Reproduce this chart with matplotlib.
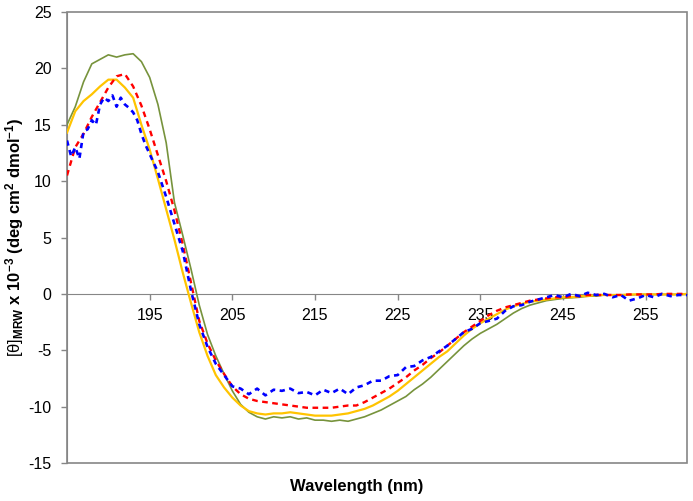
import numpy as np
import matplotlib
matplotlib.use("Agg")
import matplotlib.pyplot as plt
from matplotlib.patches import Rectangle

plt.rcParams["font.family"] = ["Liberation Sans", "DejaVu Sans"]
plt.rcParams["axes.unicode_minus"] = False
plt.rcParams["mathtext.fontset"] = "custom"
plt.rcParams["mathtext.rm"] = "Liberation Sans"
plt.rcParams["mathtext.it"] = "Liberation Sans:italic"
plt.rcParams["mathtext.bf"] = "Liberation Sans:bold"

# wavelength grid (nm), 1 nm steps
wl = np.arange(185, 261)

green = [15.0, 16.6, 18.8, 20.4, 20.8, 21.2, 21.0, 21.2, 21.3, 20.6,
         19.2, 16.8, 13.4, 8.1, 5.2, 2.2, -1.0, -3.6, -5.5, -7.1,
         -8.6, -9.8, -10.5, -10.9, -11.1, -10.9, -11.0, -10.9, -11.1, -11.0,
         -11.2, -11.2, -11.3, -11.2, -11.3, -11.1, -10.9, -10.6, -10.3, -9.9,
         -9.5, -9.1, -8.5, -8.0, -7.4, -6.7, -6.0, -5.3, -4.6, -4.0,
         -3.5, -3.1, -2.7, -2.2, -1.7, -1.3, -1.0, -0.8, -0.6, -0.5,
         -0.4, -0.35, -0.3, -0.2, -0.2, -0.1, -0.1, -0.1, -0.1, -0.05,
         -0.05, -0.05, -0.05, -0.05, -0.05, -0.05]

yellow = [14.3, 16.2, 17.1, 17.7, 18.4, 19.0, 19.0, 18.3, 17.4, 15.0,
          12.8, 10.2, 7.5, 4.8, 1.9, -0.8, -3.4, -5.5, -7.2, -8.3,
          -9.2, -9.9, -10.4, -10.6, -10.7, -10.6, -10.6, -10.5, -10.6, -10.7,
          -10.8, -10.8, -10.8, -10.7, -10.6, -10.4, -10.2, -9.9, -9.5, -9.1,
          -8.6, -8.0, -7.4, -6.8, -6.2, -5.6, -5.1, -4.4, -3.7, -3.1,
          -2.6, -2.2, -1.8, -1.4, -1.1, -0.9, -0.7, -0.6, -0.5, -0.4,
          -0.3, -0.3, -0.2, -0.2, -0.1, -0.1, -0.1, -0.1, -0.05, -0.05,
          -0.05, -0.05, -0.05, -0.05, -0.05, 0.0]

red = [10.5, 13.0, 14.2, 15.7, 17.0, 18.3, 19.3, 19.5, 18.4, 16.7,
       14.6, 12.3, 10.0, 7.4, 4.4, 1.0, -2.4, -4.4, -5.9, -7.1,
       -8.2, -8.9, -9.3, -9.5, -9.6, -9.7, -9.8, -9.9, -10.0, -10.1,
       -10.1, -10.1, -10.1, -10.0, -9.9, -9.9, -9.6, -9.2, -8.8, -8.4,
       -7.9, -7.4, -6.8, -6.3, -5.7, -5.2, -4.6, -4.0, -3.4, -2.9,
       -2.4, -1.9, -1.5, -1.2, -1.0, -0.8, -0.6, -0.5, -0.4, -0.3,
       -0.3, -0.2, -0.2, -0.1, -0.1, -0.1, -0.1, -0.1, -0.05, -0.05,
       -0.05, -0.05, 0.0, 0.0, 0.0, 0.0]

# blue trace is noisy: half-nm readings up to 195 nm, then 1 nm
wl_blue = np.concatenate([np.arange(185, 195, 0.5), np.arange(195, 261)])
blue = [13.6, 12.2, 13.0, 12.0, 14.4, 14.6, 15.4, 15.0, 16.8, 17.4,
        17.1, 17.6, 16.6, 17.4, 16.8, 16.5, 16.1, 15.4, 14.2, 13.2,
        12.4, 10.8, 8.6, 6.2, 3.8, 0.3, -2.7, -4.7, -6.2, -7.2,
        -8.2, -8.4, -8.9, -8.4, -9.0, -8.5, -8.6, -8.4, -8.8, -8.7,
        -9.0, -8.5, -8.8, -8.4, -8.9, -8.3, -8.1, -7.7, -7.7, -7.3,
        -7.2, -6.5, -6.4, -5.9, -5.6, -5.1, -4.6, -4.0, -3.4, -3.1,
        -2.6, -2.4, -2.2, -1.5, -1.1, -1.0, -0.7, -0.5, -0.3, -0.1,
        -0.3, 0.0, -0.2, 0.1, -0.1, 0.0, -0.3, -0.1, -0.6, -0.4,
        -0.1, -0.3, 0.0, -0.2, -0.1, -0.1]

fig = plt.figure(figsize=(6.93, 5.01), dpi=100)
ax = fig.add_axes([67 / 693, 1 - 463 / 501, 620 / 693, 451 / 501])

ax.plot(wl, green, color="#77933C", lw=1.2, zorder=3)
ax.plot(wl, yellow, color="#FFC400", lw=1.6, zorder=4)
ax.plot(wl, red, color="#FF0000", lw=1.7, dashes=(2.4, 1.9), zorder=5)
ax.plot(wl_blue, blue, color="#0000FF", lw=1.9, dashes=(2.0, 1.7), zorder=6)

ax.set_xlim(185, 260)
ax.set_ylim(-15, 25)
ax.set_xticks(np.arange(195, 256, 10))
ax.set_yticks(np.arange(-15, 26, 5))

grey = "#868686"
for side in ["top", "right"]:
    ax.spines[side].set_visible(False)
ax.spines["left"].set_color(grey)
ax.spines["bottom"].set_color(grey)
ax.spines["bottom"].set_position(("data", 0))
ax.add_patch(Rectangle((0, 0), 1, 1, transform=ax.transAxes, fill=False,
                       edgecolor=grey, lw=1.2, clip_on=False, zorder=1))

ax.tick_params(axis="both", direction="out", length=4, width=1, color=grey,
               labelsize=11.5, labelcolor="black")
ax.tick_params(axis="x", pad=6.5)
ax.tick_params(axis="y", pad=7)

ax.set_xlabel("Wavelength (nm)", fontsize=12, fontweight="bold")
ax.xaxis.set_label_coords(0.468, -0.035)
ax.set_ylabel(r"$\mathrm{[θ]}_{\mathbf{MRW}}$ x 10$^{\mathbf{-3}}$ "
              r"(deg cm$^{\mathbf{2}}$ dmol$^{\mathbf{-1}}$)",
              fontsize=12, fontweight="bold")
ax.yaxis.set_label_coords(-0.066, 0.5)

fig.savefig("out.png", dpi=100)
